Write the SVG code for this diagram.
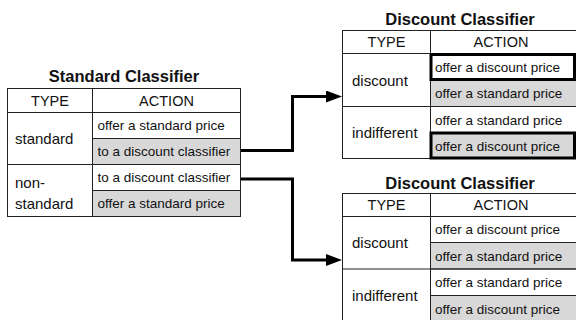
<svg xmlns="http://www.w3.org/2000/svg" width="576" height="320" viewBox="0 0 576 320">
<defs>
<style>
text{font-family:"Liberation Sans",Arial,Helvetica,sans-serif;fill:#111}
.title{font-size:16.5px;font-weight:bold;text-anchor:middle}
.hdr{font-size:14.5px;text-anchor:middle}
.type{font-size:15px}
.cell{font-size:13.5px}
.box{fill:#fff;stroke:#222;stroke-width:1}
.gray{fill:#d8d8d8;stroke:#222;stroke-width:1}
.line{stroke:#222;stroke-width:1;fill:none}
.hl{fill:none;stroke:#000;stroke-width:3}
.conn{fill:none;stroke:#000;stroke-width:3;stroke-linejoin:miter}
</style>
<marker id="arrow" markerUnits="userSpaceOnUse" markerWidth="16" markerHeight="12" refX="8" refY="6" orient="auto">
<path d="M0,0 L16,6 L0,12 z" fill="#000"/>
</marker>
</defs>
<rect width="576" height="320" fill="#fff"/>

<g id="standard-classifier">
<text class="title" x="124" y="82">Standard Classifier</text>
<rect class="box" x="7.5" y="88.5" width="233" height="128"/>
<rect class="gray" x="92.5" y="138.5" width="148" height="26"/>
<rect class="gray" x="92.5" y="190.5" width="148" height="26"/>
<line class="line" x1="92.5" y1="88.5" x2="92.5" y2="216.5"/>
<line class="line" x1="7.5" y1="112.5" x2="240.5" y2="112.5"/>
<line class="line" x1="7.5" y1="164.5" x2="240.5" y2="164.5"/>
<text class="hdr" x="50" y="105.5">TYPE</text>
<text class="hdr" x="166.5" y="105.5">ACTION</text>
<text class="type" x="15" y="144">standard</text>
<text class="type" x="15" y="188">non-</text>
<text class="type" x="15" y="208.5">standard</text>
<text class="cell" x="97.5" y="130">offer a standard price</text>
<text class="cell" x="97.5" y="156">to a discount classifier</text>
<text class="cell" x="97.5" y="182">to a discount classifier</text>
<text class="cell" x="97.5" y="208">offer a standard price</text>
</g>

<g id="discount-classifier-1">
<text class="title" x="460" y="25">Discount Classifier</text>
<rect class="box" x="342.5" y="30.5" width="234" height="128"/>
<rect class="gray" x="430.5" y="80.5" width="146" height="26"/>
<rect class="gray" x="430.5" y="132.5" width="146" height="26"/>
<line class="line" x1="430.5" y1="30.5" x2="430.5" y2="158.5"/>
<line class="line" x1="342.5" y1="53.5" x2="576" y2="53.5"/>
<line class="line" x1="342.5" y1="106.5" x2="576" y2="106.5"/>
<rect class="hl" x="431" y="54.5" width="143.5" height="25"/>
<rect class="hl" x="431" y="133" width="143.5" height="25"/>
<text class="hdr" x="386.5" y="47">TYPE</text>
<text class="hdr" x="501" y="47">ACTION</text>
<text class="type" x="352" y="86">discount</text>
<text class="type" x="352" y="138">indifferent</text>
<text class="cell" x="435" y="72">offer a discount price</text>
<text class="cell" x="435" y="98">offer a standard price</text>
<text class="cell" x="435" y="124.5">offer a standard price</text>
<text class="cell" x="435" y="150.5">offer a discount price</text>
</g>

<g id="discount-classifier-2">
<text class="title" x="460" y="188.5">Discount Classifier</text>
<rect class="box" x="342.5" y="193.5" width="234" height="130"/>
<rect class="gray" x="430.5" y="242.5" width="146" height="26.5"/>
<rect class="gray" x="430.5" y="295.5" width="146" height="28"/>
<line class="line" x1="430.5" y1="193.5" x2="430.5" y2="323"/>
<line class="line" x1="342.5" y1="216.5" x2="576" y2="216.5"/>
<line class="line" x1="342.5" y1="269" x2="576" y2="269"/>
<text class="hdr" x="386.5" y="210">TYPE</text>
<text class="hdr" x="501" y="210">ACTION</text>
<text class="type" x="352" y="248">discount</text>
<text class="type" x="352" y="300.5">indifferent</text>
<text class="cell" x="435" y="234">offer a discount price</text>
<text class="cell" x="435" y="260.5">offer a standard price</text>
<text class="cell" x="435" y="287">offer a standard price</text>
<text class="cell" x="435" y="313.5">offer a discount price</text>
</g>

<g id="connectors">
<path class="conn" d="M241,150.5 H292.5 V96.5 H334" marker-end="url(#arrow)"/>
<path class="conn" d="M241,179 H292.5 V260 H334" marker-end="url(#arrow)"/>
</g>
</svg>
